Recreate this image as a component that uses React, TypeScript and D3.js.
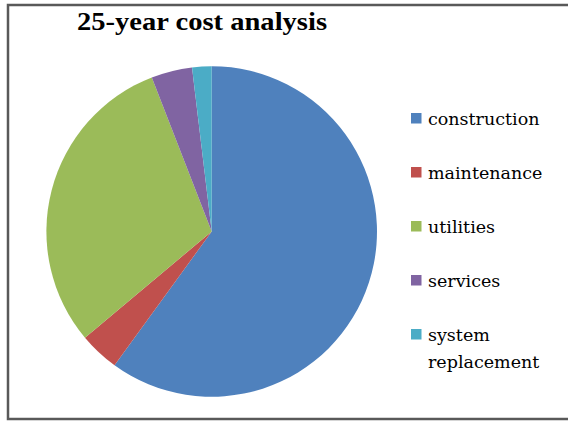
import * as d3 from "d3";
import React, { useRef, useEffect } from "react";

// 25-year cost analysis, share of total cost (%)
const categories = ["construction", "maintenance", "utilities", "services", "system replacement"];
const shares = [60, 3.9, 30.2, 4.0, 1.9];
const colors = ["#4F81BD", "#C0504D", "#9BBB59", "#8064A2", "#4BACC6"];

const W = 568;
const H = 421;

const App: React.FC = () => {
  const svgRef = useRef<SVGSVGElement | null>(null);

  useEffect(() => {
    if (!svgRef.current) return;
    const svg = d3.select(svgRef.current);
    svg.selectAll("*").remove();

    // frame (right edge runs off the picture)
    svg
      .append("rect")
      .attr("x", 8)
      .attr("y", 5)
      .attr("width", W + 10)
      .attr("height", 414)
      .attr("fill", "#fff")
      .attr("stroke", "#595959")
      .attr("stroke-width", 2.5);

    svg
      .append("text")
      .attr("x", 77)
      .attr("y", 30)
      .attr("textLength", 250)
      .attr("lengthAdjust", "spacingAndGlyphs")
      .style("font-family", "'Liberation Serif', 'Times New Roman', serif")
      .style("font-weight", "bold")
      .style("font-size", "25px")
      .text("25-year cost analysis");

    const cx = 211.7;
    const cy = 231.5;
    const r = 165.3;

    const pie = d3
      .pie<number>()
      .sort(null)
      .value((d) => d);
    const arc = d3.arc<d3.PieArcDatum<number>>().innerRadius(0).outerRadius(r);

    const g = svg.append("g").attr("transform", `translate(${cx},${cy})`);
    g.selectAll("path")
      .data(pie(shares))
      .enter()
      .append("path")
      .attr("d", arc)
      .attr("fill", (_, i) => colors[i]);

    // legend
    const legend = svg.append("g").attr("transform", "translate(411,125)");
    const rowStep = 54;
    const lineStep = 27;

    categories.forEach((name, i) => {
      const row = legend.append("g").attr("transform", `translate(0,${i * rowStep})`);
      row
        .append("rect")
        .attr("x", 0)
        .attr("y", -12)
        .attr("width", 10.5)
        .attr("height", 10.5)
        .attr("fill", colors[i]);

      const words = name === "system replacement" ? ["system", "replacement"] : [name];
      words.forEach((w, j) => {
        row
          .append("text")
          .attr("x", 17)
          .attr("y", j * lineStep)
          .style("font-family", "'DejaVu Serif', serif")
          .style("font-size", "17.5px")
          .attr("fill", "#000")
          .text(w);
      });
    });
  }, []);

  return (
    <div style={{ position: "absolute", left: 0, top: 0 }}>
      <svg ref={svgRef} width={W} height={H} style={{ display: "block" }}></svg>
    </div>
  );
};

export default App;
